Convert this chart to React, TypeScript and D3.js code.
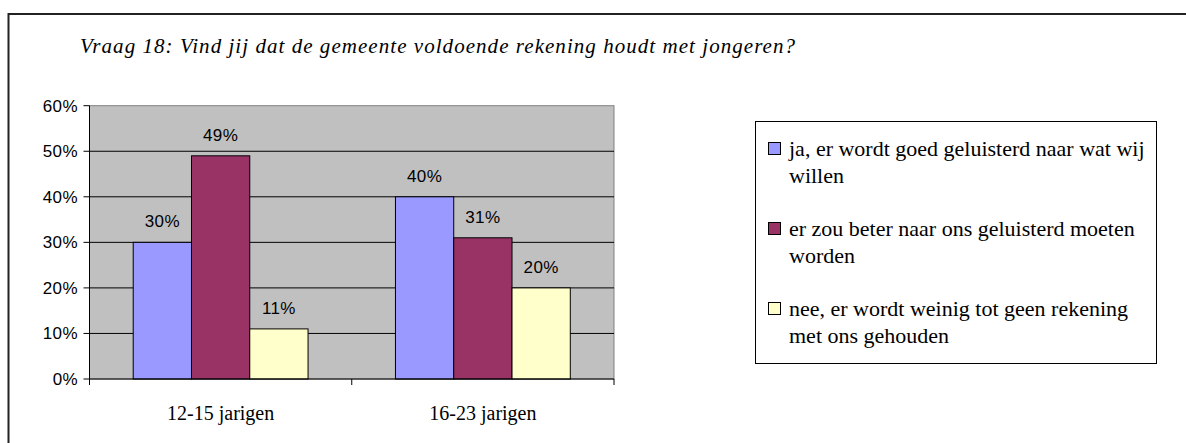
import React from 'react';
import * as d3 from 'd3';

const title = 'Vraag 18: Vind jij dat de gemeente voldoende rekening houdt met jongeren?';
const categories = ['12-15 jarigen', '16-23 jarigen'];
const seriesNames = [
  ['ja, er wordt goed geluisterd naar wat wij', 'willen'],
  ['er zou beter naar ons geluisterd moeten', 'worden'],
  ['nee, er wordt weinig tot geen rekening', 'met ons gehouden'],
];
const seriesKeys = ['ja', 'beter', 'nee'];
const jaValues = [0.3, 0.4];
const beterValues = [0.49, 0.31];
const neeValues = [0.11, 0.2];
const yTicks = [0, 0.1, 0.2, 0.3, 0.4, 0.5, 0.6];
const colors = ['#9999FF', '#993366', '#FFFFCC'];

const W = 1186;
const H = 443;
const plot = { left: 89.5, right: 614, top: 105.7, bottom: 379 };

const serif = { fontFamily: "'Times New Roman', 'Liberation Serif', serif" };
const sans = { fontFamily: "Arial, 'Liberation Sans', sans-serif" };

export default function App() {
  const values = [jaValues, beterValues, neeValues];

  const x0 = d3.scaleBand<string>().domain(categories).range([plot.left, plot.right]);
  const x1 = d3
    .scaleBand<string>()
    .domain(seriesKeys)
    .range([0, x0.bandwidth()])
    .paddingInner(0)
    .paddingOuter(0.75);
  const y = d3.scaleLinear().domain([0, 0.6]).range([plot.bottom, plot.top]);
  const fmt = d3.format('.0%');

  const legend = { x: 755.5, y: 121.5, w: 401, h: 242 };
  const legendRowY = [156, 236, 316];

  return (
    <svg
      width={W}
      height={H}
      style={{ position: 'absolute', left: 0, top: 0, background: '#fff' }}
    >
      {/* outer frame */}
      <rect x={8.5} y={14} width={1300} height={600} fill="none" stroke="#222" strokeWidth={2} />

      <text
        x={80}
        y={53}
        style={{ ...serif, fontStyle: 'italic', fontSize: 21 }}
        textLength={715}
        lengthAdjust="spacing"
      >
        {title}
      </text>

      {/* plot area */}
      <rect
        x={plot.left}
        y={plot.top}
        width={plot.right - plot.left}
        height={plot.bottom - plot.top}
        fill="#C0C0C0"
        stroke="#808080"
        strokeWidth={1}
      />
      {yTicks.slice(1, -1).map((t) => (
        <line key={t} x1={plot.left} x2={plot.right} y1={y(t)} y2={y(t)} stroke="#000" strokeWidth={1} />
      ))}

      {/* bars */}
      {categories.map((c, ci) => (
        <g key={c} transform={`translate(${x0(c)},0)`}>
          {seriesKeys.map((k, si) => {
            const v = values[si][ci];
            const bx = x1(k) as number;
            return (
              <g key={k}>
                <rect
                  x={bx}
                  y={y(v)}
                  width={x1.bandwidth()}
                  height={plot.bottom - y(v)}
                  fill={colors[si]}
                  stroke="#000"
                  strokeWidth={1}
                />
                <text
                  x={bx + x1.bandwidth() / 2}
                  y={y(v) - 15}
                  textAnchor="middle"
                  style={{ ...sans, fontSize: 17, letterSpacing: 0.4 }}
                >
                  {fmt(v)}
                </text>
              </g>
            );
          })}
        </g>
      ))}

      {/* y axis */}
      <line x1={plot.left} x2={plot.left} y1={plot.top} y2={plot.bottom} stroke="#000" strokeWidth={1} />
      {yTicks.map((t) => (
        <g key={t}>
          <line x1={plot.left - 6} x2={plot.left} y1={y(t)} y2={y(t)} stroke="#000" />
          <text x={78} y={y(t) + 6} textAnchor="end" style={{ ...sans, fontSize: 17, letterSpacing: 0.4 }}>
            {fmt(t)}
          </text>
        </g>
      ))}

      {/* x axis */}
      <line x1={plot.left} x2={plot.right} y1={plot.bottom} y2={plot.bottom} stroke="#000" strokeWidth={1} />
      {[...categories.map((c) => x0(c) as number), plot.right].map((tx) => (
        <line key={tx} x1={tx} x2={tx} y1={plot.bottom} y2={plot.bottom + 6} stroke="#000" />
      ))}
      {categories.map((c) => (
        <text
          key={c}
          x={(x0(c) as number) + x0.bandwidth() / 2}
          y={420}
          textAnchor="middle"
          style={{ ...serif, fontSize: 20 }}
        >
          {c}
        </text>
      ))}

      {/* legend */}
      <rect x={legend.x} y={legend.y} width={legend.w} height={legend.h} fill="#fff" stroke="#000" strokeWidth={1} />
      {seriesNames.map((lines, i) => (
        <g key={i}>
          <rect x={768.5} y={legendRowY[i] - 13.5} width={12} height={12} fill={colors[i]} stroke="#000" />
          {lines.map((ln, li) => (
            <text
              key={li}
              x={789}
              y={legendRowY[i] + li * 27}
              style={{ ...serif, fontSize: 22 }}
            >
              {ln}
            </text>
          ))}
        </g>
      ))}
    </svg>
  );
}
